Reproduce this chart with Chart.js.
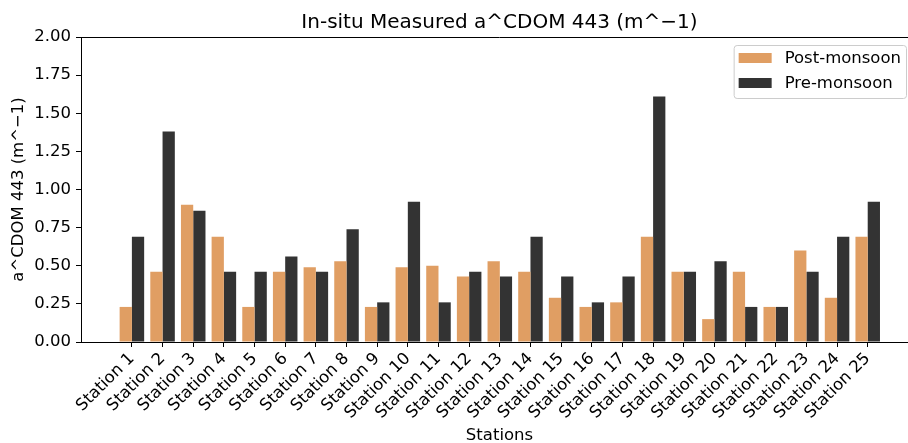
<!DOCTYPE html>
<html>
<head>
<meta charset="utf-8">
<script src="https://cdn.jsdelivr.net/npm/chart.js@4"></script>
<style>
    html, body { margin: 0; padding: 0; background: #fff; overflow: hidden; }
    #wrap { width: 908px; height: 443px; overflow: hidden; }
</style>
</head>
<body>
<div id="wrap"><canvas id="chart" width="960" height="443"></canvas></div>
<script>
const stations = [
    'Station 1', 'Station 2', 'Station 3', 'Station 4', 'Station 5',
    'Station 6', 'Station 7', 'Station 8', 'Station 9', 'Station 10',
    'Station 11', 'Station 12', 'Station 13', 'Station 14', 'Station 15',
    'Station 16', 'Station 17', 'Station 18', 'Station 19', 'Station 20',
    'Station 21', 'Station 22', 'Station 23', 'Station 24', 'Station 25'
];
const post_monsoon = [0.23, 0.46, 0.90, 0.69, 0.23, 0.46, 0.49, 0.53, 0.23, 0.49,
    0.50, 0.43, 0.53, 0.46, 0.29, 0.23, 0.26, 0.69, 0.46, 0.15,
    0.46, 0.23, 0.60, 0.29, 0.69];
const pre_monsoon = [0.69, 1.38, 0.86, 0.46, 0.46, 0.56, 0.46, 0.74, 0.26, 0.92,
    0.26, 0.46, 0.43, 0.69, 0.43, 0.26, 0.43, 1.61, 0.46, 0.53,
    0.23, 0.23, 0.46, 0.69, 0.92];
const y_ticks = [0, 0.25, 0.5, 0.75, 1, 1.25, 1.5, 1.75, 2];

const chartTitle = 'In-situ Measured a^CDOM 443 (m^\u22121)';
const ORANGE = '#E09E63';
const DARK = '#333333';

Chart.defaults.font.family = "'DejaVu Sans', sans-serif";
Chart.defaults.color = '#000';

function toPoints(values) {
    return values.map((v, i) => ({ x: i, y: v }));
}

// title above the plot, spine on top, legend box inside the plot
const decorations = {
    id: 'decorations',
    afterDraw(chart) {
        const ctx = chart.ctx;
        const area = chart.chartArea;
        ctx.save();

        ctx.strokeStyle = '#000';
        ctx.lineWidth = 1;
        ctx.beginPath();
        ctx.moveTo(area.left, area.top + 0.5);
        ctx.lineTo(area.right, area.top + 0.5);
        ctx.stroke();

        ctx.fillStyle = '#000';
        ctx.font = "20px 'DejaVu Sans'";
        ctx.textAlign = 'center';
        ctx.textBaseline = 'alphabetic';
        ctx.fillText(chartTitle, (area.left + area.right) / 2, 28);

        ctx.font = "16.5px 'DejaVu Sans'";
        const items = chart.data.datasets;
        const textW = Math.max(...items.map(d => ctx.measureText(d.label).width));
        const boxW = 5 + 33 + 13 + textW + 5;
        const boxH = 53;
        const boxX = area.right - 12 - boxW;
        const boxY = area.top + 8;
        ctx.fillStyle = 'rgba(255,255,255,0.8)';
        ctx.strokeStyle = '#cccccc';
        ctx.beginPath();
        ctx.roundRect(boxX + 0.5, boxY + 0.5, boxW, boxH, 3);
        ctx.fill();
        ctx.stroke();

        ctx.textAlign = 'left';
        ctx.textBaseline = 'middle';
        items.forEach((d, i) => {
            const cy = boxY + 13 + i * 25;
            ctx.fillStyle = d.backgroundColor;
            ctx.fillRect(boxX + 5, cy - 5, 33, 10);
            ctx.fillStyle = '#000';
            ctx.fillText(d.label, boxX + 51, cy + 1);
        });
        ctx.restore();
    }
};

const chart = new Chart(document.getElementById('chart'), {
    type: 'bar',
    data: {
        datasets: [
            {
                label: 'Post-monsoon',
                data: toPoints(post_monsoon),
                backgroundColor: ORANGE,
                categoryPercentage: 0.8,
                barPercentage: 1.0
            },
            {
                label: 'Pre-monsoon',
                data: toPoints(pre_monsoon),
                backgroundColor: DARK,
                categoryPercentage: 0.8,
                barPercentage: 1.0
            }
        ]
    },
    options: {
        responsive: false,
        animation: false,
        devicePixelRatio: 1,
        layout: {
            padding: { top: 37, right: 42, left: 0, bottom: 0 }
        },
        plugins: {
            legend: { display: false },
            tooltip: { enabled: false }
        },
        scales: {
            x: {
                type: 'linear',
                offset: false,
                min: -1.66,
                max: 25.64,
                afterBuildTicks: axis => {
                    axis.ticks = stations.map((_, i) => ({ value: i }));
                },
                afterFit: axis => { axis.height = 101; },
                grid: {
                    display: true,
                    offset: false,
                    drawOnChartArea: false,
                    drawTicks: true,
                    tickLength: 5,
                    color: '#000'
                },
                border: { display: true, color: '#000', width: 1 },
                ticks: {
                    autoSkip: false,
                    minRotation: 45,
                    maxRotation: 45,
                    padding: 2,
                    font: { size: 16.5 },
                    callback: value => stations[value]
                },
                title: {
                    display: true,
                    text: 'Stations',
                    font: { size: 16.5, lineHeight: 0.9 },
                    padding: { top: 0, bottom: 0 }
                }
            },
            y: {
                min: 0,
                max: 2,
                afterBuildTicks: axis => {
                    axis.ticks = y_ticks.map(v => ({ value: v }));
                },
                afterFit: axis => { axis.width = 81; },
                grid: {
                    display: true,
                    drawOnChartArea: false,
                    drawTicks: true,
                    tickLength: 5,
                    color: '#000'
                },
                border: { display: true, color: '#000', width: 1 },
                ticks: {
                    padding: 5,
                    font: { size: 16.5 },
                    callback: value => value.toFixed(2)
                },
                title: {
                    display: true,
                    text: 'a^CDOM 443 (m^\u22121)',
                    font: { size: 16.5 },
                    padding: { top: 9, bottom: 0 }
                }
            }
        }
    },
    plugins: [decorations]
});
</script>
</body>
</html>
